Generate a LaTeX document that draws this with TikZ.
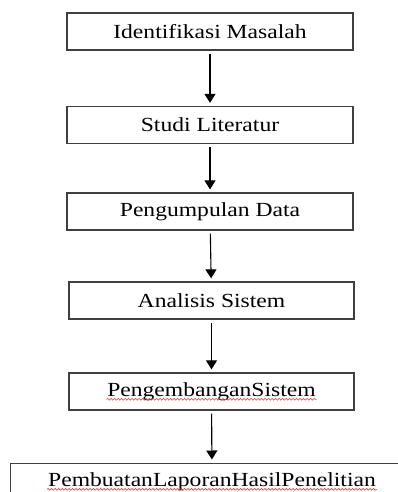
\documentclass[tikz,border=0pt]{standalone}
\usepackage{fontspec}
\setmainfont{Liberation Serif}[FakeStretch=1.18]
\usetikzlibrary{arrows.meta,calc,decorations.pathmorphing}
\definecolor{boxline}{HTML}{404040}
\begin{document}
\begin{tikzpicture}[x=1pt,y=-1pt,
  box/.style={draw=boxline, line width=1.3pt, minimum width=286pt, minimum height=37pt, inner sep=0pt, font=\fontsize{20}{22}\selectfont},
  flow/.style={-{Triangle[length=9pt,width=11pt]}, line width=1.1pt, shorten <=3pt, shorten >=3pt},
  spell/.style={red!80, line width=0.6pt, decorate, decoration={snake, segment length=3.5pt, amplitude=0.9pt}}]
\useasboundingbox (0,0) rectangle (398,492);
\clip (0,0) rectangle (398,492);

\node (s1) at (210,31.5) [box] {Identifikasi Masalah};
\node (s2) at (210,125) [box] {Studi Literatur};
\node (s3) at (210,211.5) [box] {Pengumpulan Data};
\node (s4) at (211.5,300.5) [box, minimum width=285pt] {Analisis Sistem};
\node (s5) at (211.5,391.5) [box, minimum width=285pt] {PengembanganSistem};
\node (s6) at (212,481.5) [box, minimum width=404pt, line width=1pt] {PembuatanLaporanHasilPenelitian};

\foreach \a/\b in {s1/s2,s2/s3,s3/s4,s4/s5,s5/s6}
    {
    \draw[flow] (\a) -- (\b);
    }

% underlines of the spell checker
\draw[spell] ($(s5.base)+(-105,3)$) -- ($(s5.base)+(105,3)$);
\draw[spell] ($(s6.base)+(-165,3)$) -- ($(s6.base)+(165,3)$);

\end{tikzpicture}
\end{document}
